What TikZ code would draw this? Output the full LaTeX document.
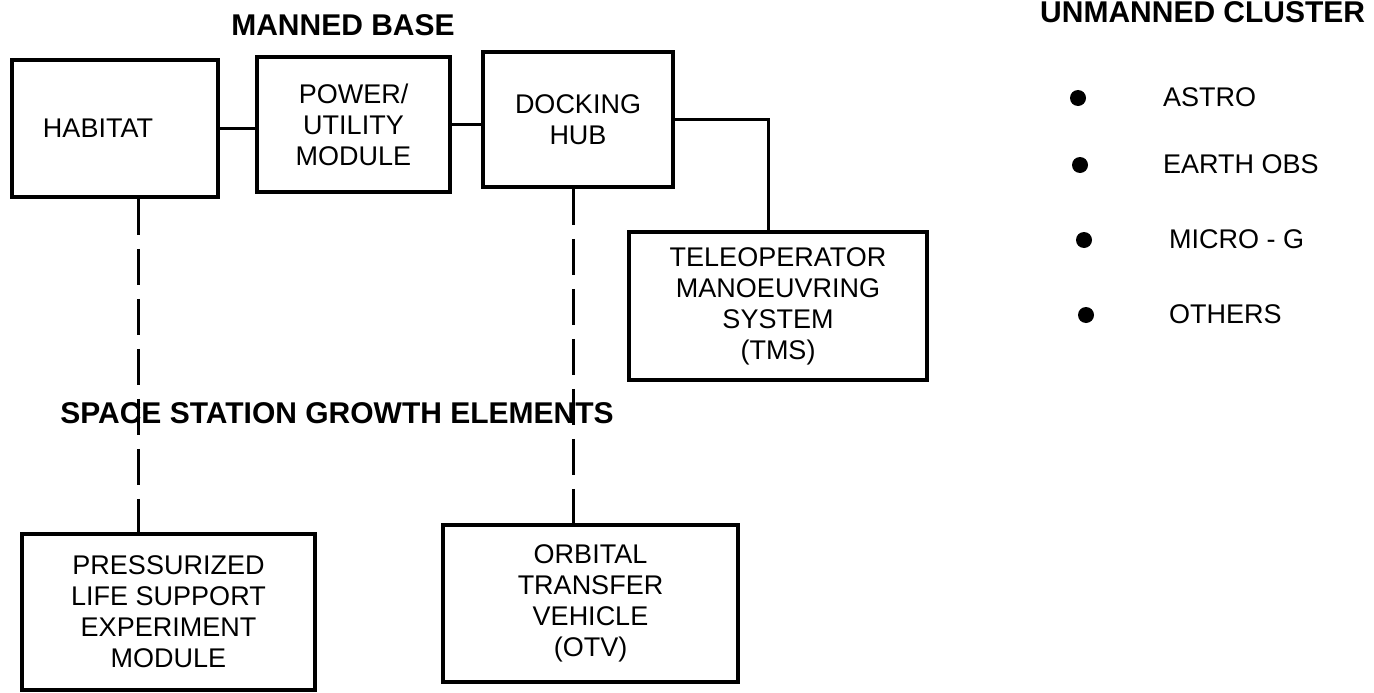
\documentclass[tikz,border=0pt]{standalone}
\usepackage{fontspec}
\setmainfont{Liberation Sans}
\begin{document}
\begin{tikzpicture}[x=1pt,y=-1pt,
  box/.style={draw,line width=3.6pt,align=center,inner sep=0pt,font=\fontsize{27}{31}\selectfont},
  head/.style={inner sep=0pt,font=\bfseries\fontsize{30}{34}\selectfont},
  item/.style={anchor=west,inner sep=0pt,font=\fontsize{27}{31}\selectfont},
  bullet/.style={circle,fill,inner sep=0pt,minimum size=16pt},
  link/.style={line width=3pt},
  dlink/.style={line width=3pt,dash pattern=on 36pt off 14pt}]
\useasboundingbox (0,0) rectangle (1374,693);
% headings
\node[head] (mb) at (343,25) {MANNED BASE};
\node[head] (ssg) at (337,413) {SPACE STATION GROWTH ELEMENTS};
\node[head,anchor=west] (uc) at (1040,12) {UNMANNED CLUSTER};
% boxes
\node[box,minimum width=206pt,minimum height=137pt] (hab) at (115,128.5) {HABITAT\hspace*{34pt}};
\node[box,minimum width=193pt,minimum height=135pt] (pow) at (353.5,124.5) {POWER/\\UTILITY\\MODULE};
\node[box,minimum width=190pt,minimum height=135pt] (dock) at (578,119.5) {DOCKING\\HUB};
\node[box,minimum width=298pt,minimum height=148pt] (tms) at (778,306) {TELEOPERATOR\\MANOEUVRING\\SYSTEM\\(TMS)};
\node[box,minimum width=293pt,minimum height=156pt] (pres) at (168.5,612) {PRESSURIZED\\LIFE SUPPORT\\EXPERIMENT\\MODULE};
\node[box,minimum width=295pt,minimum height=157pt] (otv) at (590.5,603.5) {ORBITAL\\TRANSFER\\VEHICLE\\(OTV)};
% connectors
\draw[link] (hab.east) -- (hab.east -| pow.west);
\draw[link] (pow.east) -- (pow.east -| dock.west);
\coordinate (tmsin) at ([xshift=-10pt]tms.north);
\draw[link] (dock.east) -| (tmsin);
\coordinate (habout) at ([xshift=23pt]hab.south);
\draw[dlink] (habout) -- (habout |- pres.north);
\coordinate (dockout) at ([xshift=-5pt]dock.south);
\draw[dlink] (dockout) -- (dockout |- otv.north);
% unmanned cluster list
\node[bullet] (b1) at (1078,98) {};
\node[bullet] (b2) at (1080,165) {};
\node[bullet] (b3) at (1084,240) {};
\node[bullet] (b4) at (1086,315) {};
\node[item] (i1) at (1163,97) {ASTRO};
\node[item] (i2) at (1163,164) {EARTH OBS};
\node[item] (i3) at (1169,239) {MICRO - G};
\node[item] (i4) at (1169,314) {OTHERS};
\end{tikzpicture}
\end{document}
